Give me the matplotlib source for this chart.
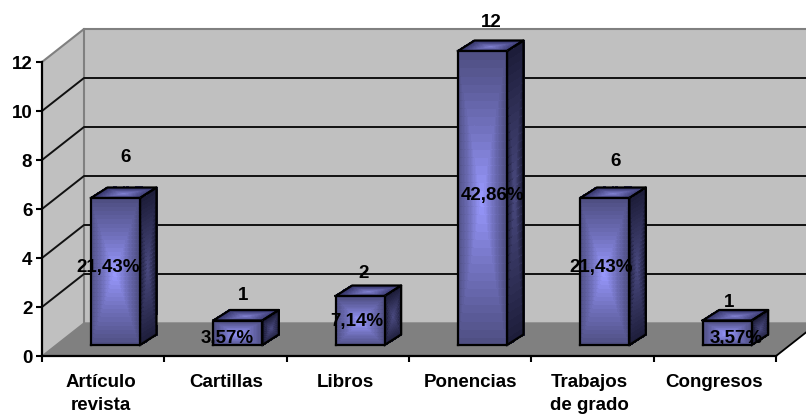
import numpy as np
import matplotlib
matplotlib.use('Agg')
import matplotlib.pyplot as plt
from matplotlib.colors import LinearSegmentedColormap
from matplotlib.transforms import Affine2D

# Data
categories = ['Artículo\nrevista', 'Cartillas', 'Libros', 'Ponencias', 'Trabajos\nde grado', 'Congresos']
values = [6, 1, 2, 12, 6, 1]
percent_labels = ['21,43%', '3,57%', '7,14%', '42,86%', '21,43%', '3,57%']
y_ticks = [0, 2, 4, 6, 8, 10, 12]

# Label nudges in pixels, from the top of the bar front and the bar front centre
value_nudge = [(10, 41), (5, 25), (3, 23), (9, 29), (11, 37), (2, 18)]
percent_nudge = [(-7, -69), (-11, -18), (-3, -25), (10, -144), (-4, -69), (9, -18)]
category_nudge = [-2, 1, -2, 0, -3, -1]

plt.rcParams['font.family'] = ['Liberation Sans', 'DejaVu Sans']
plt.rcParams['font.weight'] = 'bold'
FS = 13.5

W, H = 806, 415
left, right, bottom, top = 42, 776, 356, 62
fig = plt.figure(figsize=(W / 100, H / 100), dpi=100, facecolor='white')
ax = fig.add_axes([left / W, 1 - bottom / H, (right - left) / W, (bottom - top) / H])
ax.set_xlim(0, 6)
ax.set_ylim(0, 12)
ax.patch.set_visible(False)

# pixels to data units
px = 6 / (right - left)
py = 12 / (bottom - top)

# walls and floor
dx, dy = 42 * px, 33 * py
far = 6.5
ax.fill([0, dx, dx, 0], [0, dy, 12 + dy, 12], color='#c0c0c0', lw=0, zorder=1, clip_on=False)
ax.fill([dx, far, far, dx], [dy, dy, 12 + dy, 12 + dy], color='#c0c0c0', lw=0, zorder=1, clip_on=False)
ax.fill([0, 6, 6 + dx, dx], [0, 0, dy, dy], color='#808080', lw=0, zorder=1.5, clip_on=False)
ax.plot([0, dx, far], [12, 12 + dy, 12 + dy], color='#808080', lw=1.5, zorder=2, clip_on=False)
ax.plot([dx, dx], [dy, 12 + dy], color='#808080', lw=1.5, zorder=2, clip_on=False)
ax.plot([0, dx, far], [0, dy, dy], color='#808080', lw=1.0, zorder=2, clip_on=False)
for t in y_ticks[1:-1]:
    ax.plot([0, dx, far], [t, t + dy, t + dy], color='#111111', lw=1.4, zorder=2, clip_on=False)
ax.plot([6, 6 + dx], [0, dy], color='black', lw=1.3, zorder=2, clip_on=False)

front_cmap = LinearSegmentedColormap.from_list('front', ['#9999ff', '#7070bb', '#4d4d80'])
side_cmap = LinearSegmentedColormap.from_list('side', ['#4a4a80', '#1c1c38'])
top_cmap = LinearSegmentedColormap.from_list('top', ['#8080d0', '#35356a'])


def face(corners, cmap, z):
    # concentric rectangle gradient mapped on to a quad
    a, b, c, d = [np.array(p) for p in corners]
    n = 36
    u, v = np.meshgrid(np.linspace(0, 1, n + 1), np.linspace(0, 1, n + 1))
    X = (1 - v) * ((1 - u) * a[0] + u * b[0]) + v * ((1 - u) * d[0] + u * c[0])
    Y = (1 - v) * ((1 - u) * a[1] + u * b[1]) + v * ((1 - u) * d[1] + u * c[1])
    uc = (u[:-1, :-1] + u[1:, 1:]) / 2
    vc = (v[:-1, :-1] + v[1:, 1:]) / 2
    shade = np.maximum(abs(uc - 0.5), abs(vc - 0.5)) * 2
    ax.pcolormesh(X, Y, shade, cmap=cmap, vmin=0, vmax=1, shading='flat', zorder=z,
                  antialiased=False, clip_on=False, edgecolors='face', linewidth=0.3)
    pts = [a, b, c, d, a]
    ax.plot([p[0] for p in pts], [p[1] for p in pts], color='black', lw=1.6, zorder=z + 0.5,
            solid_joinstyle='round', clip_on=False)


# bars
fx, fy = 14 * px, 11 * py
gap, width = 35 * px, 49 * px
bx, by = 16.5 * px, 10.5 * py
for i, val in enumerate(values):
    x0 = i + gap + fx
    x1 = x0 + width
    y0 = fy
    y1 = fy + val
    z = 5 + i
    face([(x1, y0), (x1 + bx, y0 + by), (x1 + bx, y1 + by), (x1, y1)], side_cmap, z)
    face([(x0, y1), (x1, y1), (x1 + bx, y1 + by), (x0 + bx, y1 + by)], top_cmap, z)
    face([(x0, y0), (x1, y0), (x1, y1), (x0, y1)], front_cmap, z + 0.6)
    xc = (x0 + x1) / 2
    ax.annotate(str(val), (xc, y1), xytext=value_nudge[i], textcoords='offset pixels',
                ha='center', va='center', fontsize=FS, fontweight='bold', color='black',
                zorder=30, annotation_clip=False)
    ax.annotate(percent_labels[i], (xc, y1), xytext=percent_nudge[i], textcoords='offset pixels',
                ha='center', va='center', fontsize=FS, fontweight='bold', color='black',
                zorder=30, annotation_clip=False)

# axes
for s in ['top', 'right']:
    ax.spines[s].set_visible(False)
for s in ['left', 'bottom']:
    ax.spines[s].set_linewidth(1.6)
    ax.spines[s].set_color('black')
    ax.spines[s].set_zorder(4)
ax.set_yticks(y_ticks)
ax.set_yticklabels([str(t) for t in y_ticks], fontsize=FS, fontweight='bold')
ax.tick_params(axis='y', length=4, width=1.5, pad=3)
ax.set_xticks(range(7))
ax.set_xticklabels([])
ax.tick_params(axis='x', which='major', length=4, width=1.5)
ax.set_xticks(np.arange(6) + 0.5, minor=True)
ax.set_xticklabels(categories, minor=True, fontsize=FS, fontweight='bold', linespacing=1.45)
ax.tick_params(axis='x', which='minor', length=0, pad=13)
for lab, shift in zip(ax.get_xticklabels(minor=True), category_nudge):
    lab.set_transform(lab.get_transform() + Affine2D().translate(shift, 0))

fig.savefig('out.png', dpi=100, facecolor='white')
